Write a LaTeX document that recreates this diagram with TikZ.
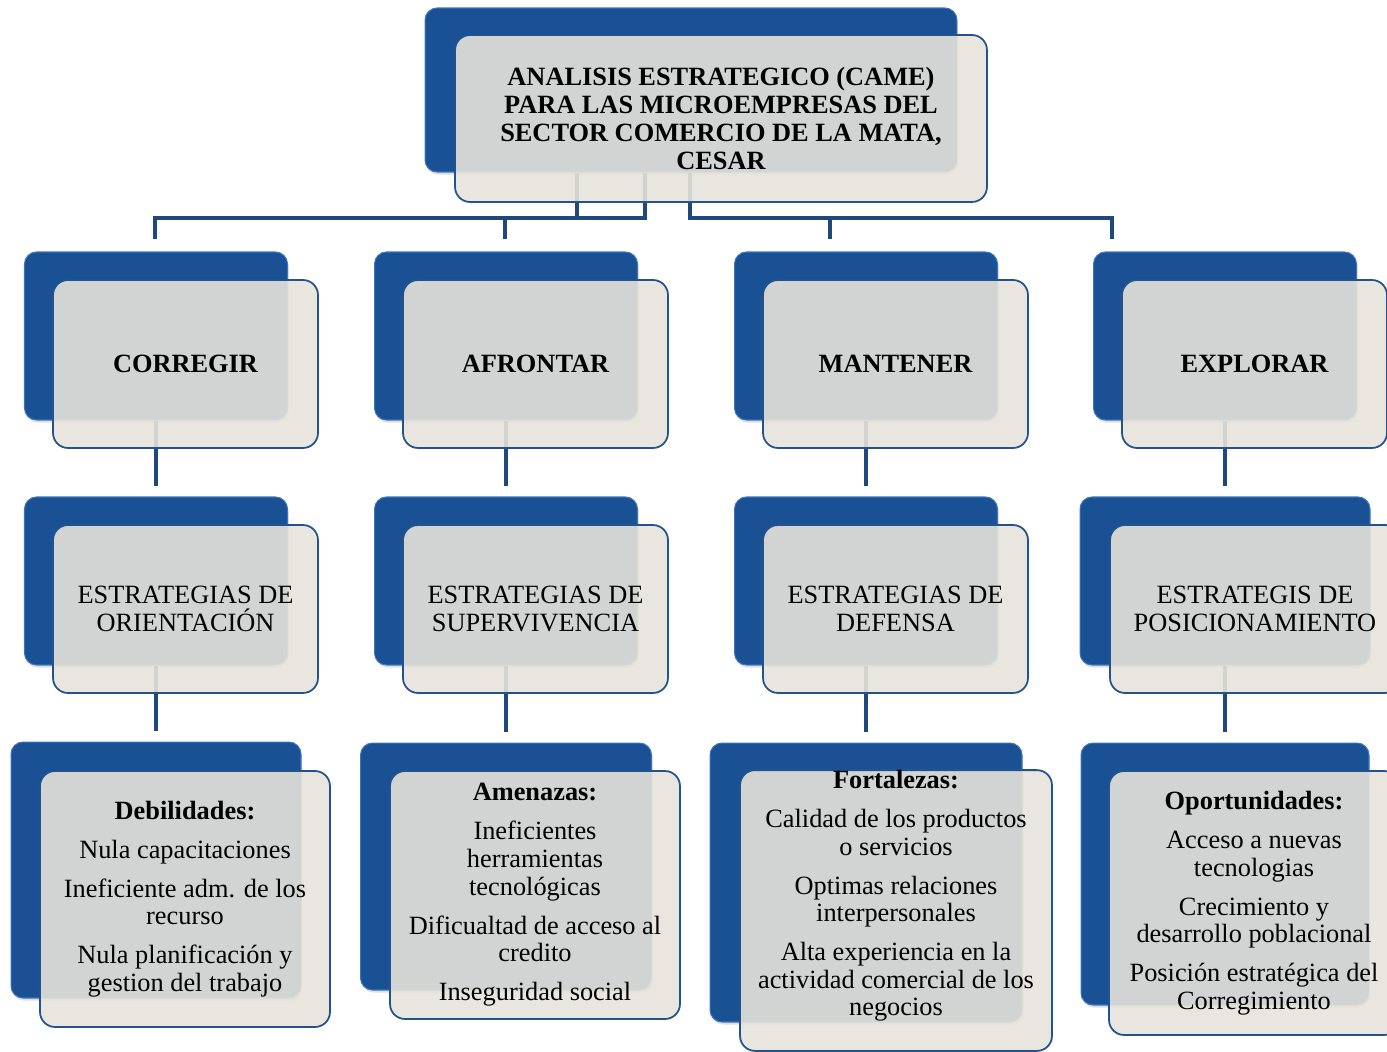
\documentclass[tikz,border=0pt]{standalone}
\usepackage{fontspec}
\setmainfont{Liberation Serif}
\usetikzlibrary{calc, positioning, shadows}

\definecolor{cameblue}{RGB}{26,80,148}
\definecolor{cametop}{RGB}{58,116,190}
\definecolor{linkblue}{RGB}{31,73,125}
\definecolor{paneline}{RGB}{36,82,140}
\definecolor{panefill}{RGB}{229,227,218}

\tikzset{
  backbox/.style={rounded corners=0.24cm, fill=cameblue, draw=cametop,
    line width=0.6pt, inner sep=0pt,
    drop shadow={opacity=0.25, shadow xshift=0.6pt, shadow yshift=-1.5pt}},
  frontbox/.style={rounded corners=0.3cm, fill=panefill, fill opacity=0.9, text opacity=1,
    draw=paneline, line width=1pt, align=center, inner sep=0pt,
    font=\fontsize{15}{15.7}\selectfont},
  link/.style={draw=linkblue, line width=2.8pt}
}

\begin{document}
\begin{tikzpicture}[x=0.02cm, y=-0.02cm]
  \useasboundingbox (0,0) rectangle (1387,1052);

  % dark boxes behind
  \node[backbox, minimum width=10.64cm, minimum height=3.28cm] (cameB) at (691,90) {};
  \foreach \i/\x in {1/156, 2/506, 3/866, 4/1225}
    \node[backbox, minimum width=5.26cm, minimum height=3.36cm] (actB\i) at (\x,336) {};
  \foreach \i/\x/\w in {1/156/5.26, 2/506/5.26, 3/866/5.26, 4/1225/5.8}
    \node[backbox, minimum width=\w cm, minimum height=3.36cm] (estB\i) at (\x,581) {};
  \node[backbox, minimum width=5.8cm, minimum height=5.12cm] (dofaB1) at (156,870) {};
  \node[backbox, minimum width=5.82cm, minimum height=4.94cm] (dofaB2) at (506,866.5) {};
  \node[backbox, minimum width=6.24cm, minimum height=5.58cm] (dofaB3) at (866,882.5) {};
  \node[backbox, minimum width=5.76cm, minimum height=5.24cm] (dofaB4) at (1225,874) {};

  % tree lines
  \coordinate (j1) at (577,218);
  \coordinate (j2) at (645,218);
  \coordinate (j3) at (690,218);
  \foreach \i/\x in {1/155, 2/505, 3/830, 4/1112}
    \coordinate (t\i) at (\x,218);
  \draw[link] (cameB.south -| j1) -- (j1);
  \draw[link] ([yshift=0.24cm]t1 |- actB1.north) -- (t1) -- (j2) -- (cameB.south -| j2);
  \draw[link] (cameB.south -| j3) -- (j3) -- (t4) -- ([yshift=0.24cm]t4 |- actB4.north);
  \foreach \i in {2,3}
    \draw[link] (t\i) -- ([yshift=0.24cm]t\i |- actB\i.north);
  \foreach \i in {1,...,4} {
    \draw[link] (actB\i.south) -- ([yshift=0.2cm]estB\i.north);
    \draw[link] (estB\i.south) -- ([yshift=0.22cm]dofaB\i.north);
  }

  % light boxes in front
  \node[frontbox, minimum width=10.64cm, minimum height=3.34cm,
    font=\fontsize{15}{15.9}\selectfont\bfseries] (came) at (721,118.5)
    {ANALISIS ESTRATEGICO (CAME)\\PARA LAS MICROEMPRESAS DEL\\SECTOR COMERCIO DE LA MATA,\\CESAR};
  \foreach \i/\x/\txt in {1/185.5/CORREGIR, 2/535.5/AFRONTAR, 3/895.5/MANTENER, 4/1254.5/EXPLORAR}
    \node[frontbox, minimum width=5.3cm, minimum height=3.36cm,
      font=\fontsize{15}{15.7}\selectfont\bfseries] (act\i) at (\x,364) {\txt};
  \foreach \i/\x/\w/\txt in {1/185.5/5.3/ESTRATEGIAS DE\\ORIENTACIÓN,
      2/535.5/5.3/ESTRATEGIAS DE\\SUPERVIVENCIA,
      3/895.5/5.3/ESTRATEGIAS DE\\DEFENSA,
      4/1255/5.8/ESTRATEGIS DE\\POSICIONAMIENTO}
    \node[frontbox, minimum width=\w cm, minimum height=3.36cm] (est\i) at (\x,609) {\txt};

  \node[frontbox, minimum width=5.8cm, minimum height=5.12cm] (dofa1) at (185,899)
    {\textbf{Debilidades:}\\[6.5pt]Nula capacitaciones\\[6.5pt]Ineficiente adm. de los\\recurso\\[6.5pt]Nula planificación y\\gestion del trabajo};
  \node[frontbox, minimum width=5.8cm, minimum height=4.96cm] (dofa2) at (535,895)
    {\textbf{Amenazas:}\\[6.5pt]Ineficientes\\herramientas\\tecnológicas\\[6.5pt]Dificualtad de acceso al\\credito\\[6.5pt]Inseguridad social};
  \node[frontbox, minimum width=6.24cm, minimum height=5.58cm, text depth=20pt] (dofa3) at (896,910.5)
    {\textbf{Fortalezas:}\\[6.5pt]Calidad de los productos\\o servicios\\[6.5pt]Optimas relaciones\\interpersonales\\[6.5pt]Alta experiencia en la\\actividad comercial de los\\negocios};
  \node[frontbox, minimum width=5.8cm, minimum height=5.28cm] (dofa4) at (1254,903)
    {\textbf{Oportunidades:}\\[6.5pt]Acceso a nuevas\\tecnologias\\[6.5pt]Crecimiento y\\desarrollo poblacional\\[6.5pt]Posición estratégica del\\Corregimiento};
\end{tikzpicture}
\end{document}
